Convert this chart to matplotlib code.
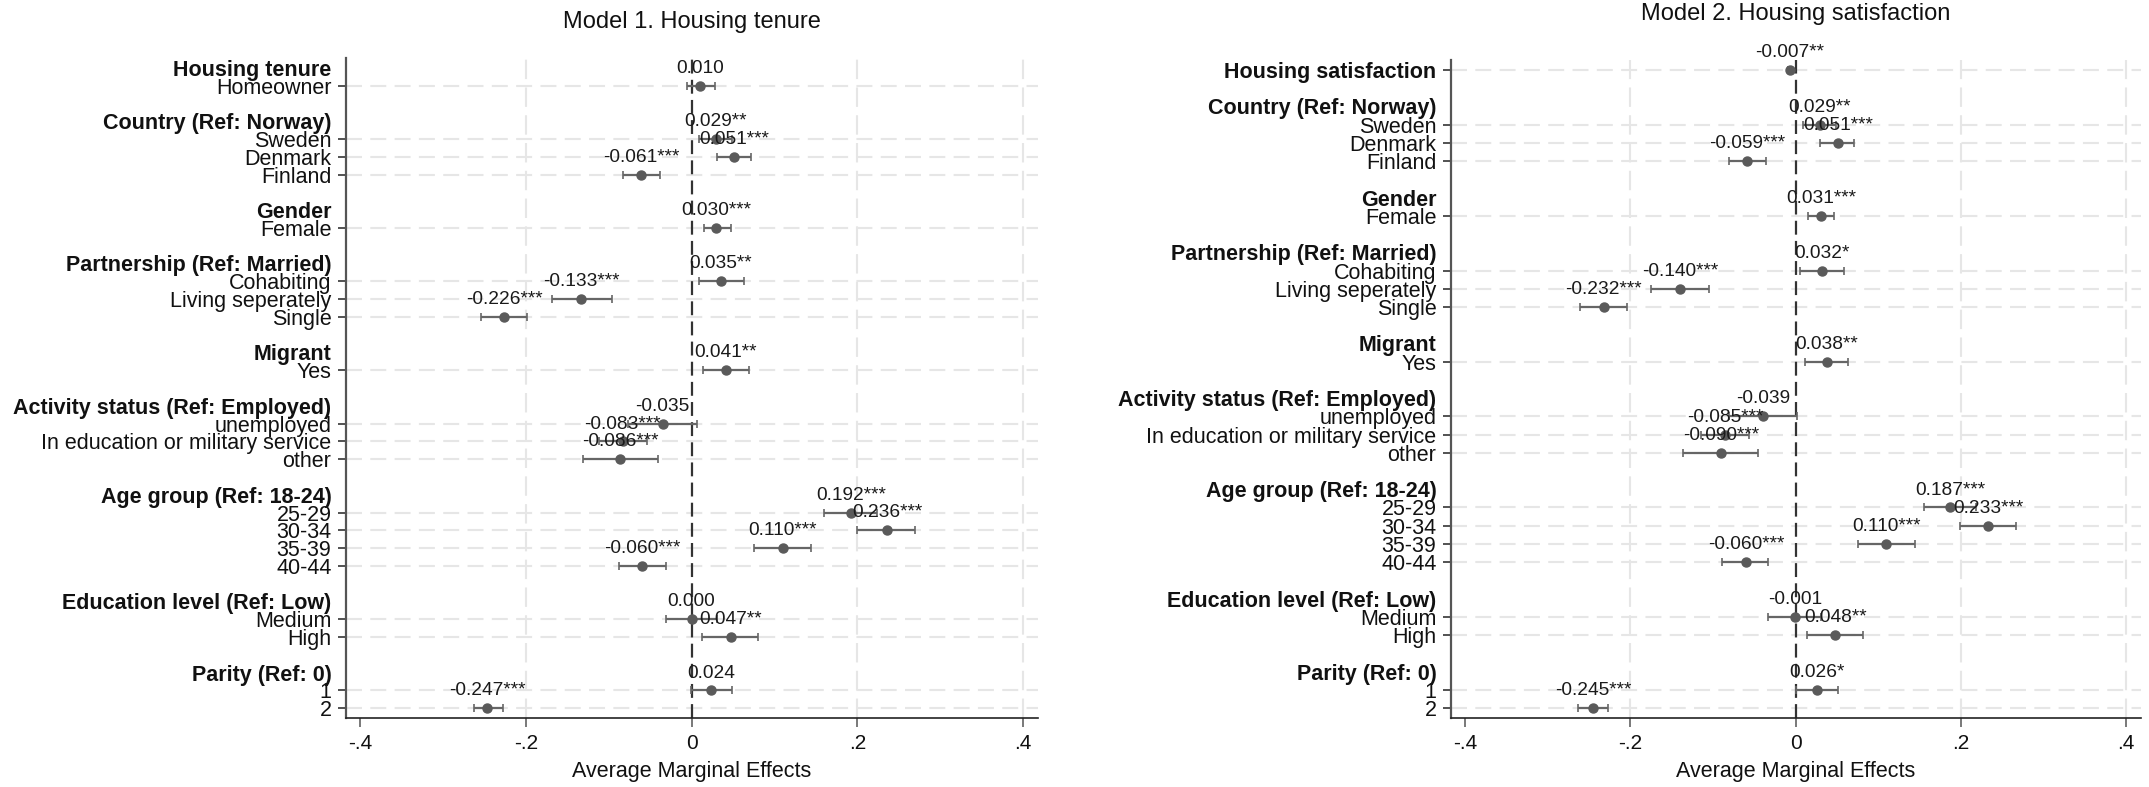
import numpy as np
import matplotlib.pyplot as plt

plt.rcParams['font.family'] = ['Liberation Sans', 'DejaVu Sans']
plt.rcParams['lines.scale_dashes'] = False

# Row labels: (group header, items)
m1_groups = [
    ("Housing tenure", ["Homeowner"]),
    ("Country (Ref: Norway)", ["Sweden", "Denmark", "Finland"]),
    ("Gender", ["Female"]),
    ("Partnership (Ref: Married)", ["Cohabiting", "Living seperately", "Single"]),
    ("Migrant", ["Yes"]),
    ("Activity status (Ref: Employed)", ["unemployed", "In education or military service", "other"]),
    ("Age group (Ref: 18-24)", ["25-29", "30-34", "35-39", "40-44"]),
    ("Education level (Ref: Low)", ["Medium", "High"]),
    ("Parity (Ref: 0)", ["1", "2"]),
]
m2_groups = [(None, ["Housing satisfaction"])] + m1_groups[1:]

# Model 1: housing tenure
m1_est = [0.010, 0.029, 0.051, -0.061, 0.030, 0.035, -0.133, -0.226, 0.041,
          -0.035, -0.083, -0.086, 0.192, 0.236, 0.110, -0.060, 0.000, 0.047, 0.024, -0.247]
m1_lo = [-0.006, 0.009, 0.031, -0.083, 0.015, 0.009, -0.168, -0.254, 0.014,
         -0.077, -0.112, -0.131, 0.160, 0.200, 0.075, -0.088, -0.031, 0.013, -0.001, -0.263]
m1_hi = [0.028, 0.049, 0.072, -0.038, 0.047, 0.063, -0.096, -0.198, 0.069,
         0.007, -0.054, -0.040, 0.224, 0.269, 0.144, -0.031, 0.031, 0.080, 0.049, -0.228]
m1_stars = ["", "**", "***", "***", "***", "**", "***", "***", "**",
            "", "***", "***", "***", "***", "***", "***", "", "**", "", "***"]

# Model 2: housing satisfaction
m2_est = [-0.007, 0.029, 0.051, -0.059, 0.031, 0.032, -0.140, -0.232, 0.038,
          -0.039, -0.085, -0.090, 0.187, 0.233, 0.110, -0.060, -0.001, 0.048, 0.026, -0.245]
m2_lo = [-0.009, 0.009, 0.030, -0.081, 0.015, 0.005, -0.175, -0.261, 0.011,
         -0.080, -0.114, -0.136, 0.156, 0.199, 0.075, -0.089, -0.033, 0.014, 0.000, -0.263]
m2_hi = [-0.005, 0.049, 0.071, -0.036, 0.046, 0.058, -0.105, -0.204, 0.064,
         0.002, -0.056, -0.045, 0.218, 0.267, 0.144, -0.033, 0.031, 0.081, 0.051, -0.227]
m2_stars = ["**", "**", "***", "***", "***", "*", "***", "***", "**",
            "", "***", "***", "***", "***", "***", "***", "", "**", "*", "***"]

xticks = [-0.4, -0.2, 0, 0.2, 0.4]
xticklabels = ["-.4", "-.2", "0", ".2", ".4"]

fig = plt.figure(figsize=(21.49, 7.87), dpi=100)


def layout(groups):
    rows = []  # (y, label, is_header)
    y = 0
    for header, items in groups:
        if header:
            rows.append((y, header, True))
            y += 1
        for it in items:
            rows.append((y, it, False))
            y += 1
        y += 1
    return rows, y - 2


def coefplot(ax, groups, est, lo, hi, stars, bold_items=()):
    rows, last = layout(groups)
    item_y = np.array([r[0] for r in rows if not r[2]])
    est = np.array(est)
    lo = np.array(lo)
    hi = np.array(hi)

    ax.set_xlim(-0.417, 0.418)
    ax.set_ylim(last + 0.55, -0.55)

    # grid
    for y in item_y:
        ax.axhline(y, color='#e6e6e6', lw=1.5, dashes=(11.5, 6), zorder=0)
    for x in [-0.2, 0.2, 0.4]:
        ax.axvline(x, color='#e6e6e6', lw=1.5, dashes=(14, 6), zorder=0)
    ax.axvline(0, color='#333333', lw=1.6, dashes=(10, 4.5), zorder=1)

    ax.errorbar(est, item_y, xerr=[est - lo, hi - est], fmt='o', color='#5a5a5a',
                ms=6.5, ecolor='#666666', elinewidth=1.6, capsize=2.9, capthick=1.2,
                zorder=3)
    for x, y, s in zip(est, item_y, stars):
        ax.annotate(f"{x:.3f}{s}", (x, y), xytext=(0, 12.5), textcoords='offset points',
                    ha='center', va='center', fontsize=13.8, color='#1a1a1a', zorder=4)

    ax.set_yticks([r[0] for r in rows])
    ax.set_yticklabels([r[1] for r in rows])
    ticks = ax.yaxis.get_major_ticks()
    for t, r in zip(ticks, rows):
        if r[2]:
            t.tick1line.set_visible(False)
        if r[2] or r[1] in bold_items:
            t.label1.set_fontweight('bold')
    ax.tick_params(axis='y', length=6, width=1.3, color='#444444', pad=4.5,
                   labelsize=15.5, labelcolor='#111111')

    ax.set_xticks(xticks)
    ax.set_xticklabels(xticklabels)
    ax.tick_params(axis='x', length=6.5, width=1.1, color='#555555', pad=5,
                   labelsize=15, labelcolor='#111111')
    ax.set_xlabel("Average Marginal Effects", fontsize=15.5, labelpad=6, color='#111111')

    for side in ['top', 'right']:
        ax.spines[side].set_visible(False)
    ax.spines['left'].set_color('#555555')
    ax.spines['left'].set_linewidth(1.6)
    ax.spines['bottom'].set_color('#222222')
    ax.spines['bottom'].set_linewidth(1.2)


ax1 = fig.add_axes([346 / 2149, 1 - 718 / 787, 692 / 2149, 660 / 787])
coefplot(ax1, m1_groups, m1_est, m1_lo, m1_hi, m1_stars)
fig.text((346 + 1038) / 2 / 2149, 1 - 22 / 787, "Model 1. Housing tenure",
         ha='center', va='center', fontsize=17, color='#111111')

ax2 = fig.add_axes([1451 / 2149, 1 - 718 / 787, 690 / 2149, 658 / 787])
coefplot(ax2, m2_groups, m2_est, m2_lo, m2_hi, m2_stars, bold_items=("Housing satisfaction",))
fig.text((1451 + 2141) / 2 / 2149, 1 - 14 / 787, "Model 2. Housing satisfaction",
         ha='center', va='center', fontsize=17, color='#111111')

fig.savefig("out.png", dpi=100, facecolor='white')
